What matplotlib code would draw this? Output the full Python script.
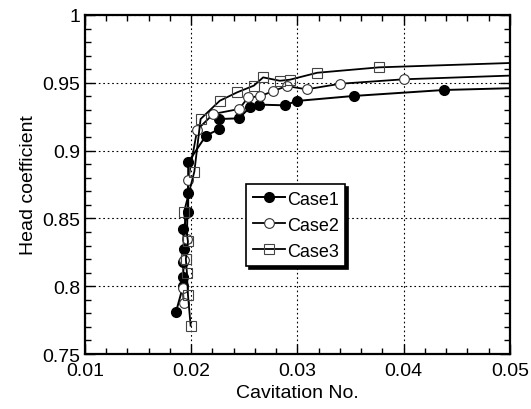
import matplotlib
matplotlib.use('Agg')
import matplotlib.pyplot as plt
from matplotlib.ticker import MultipleLocator

# Case1 - filled circles (last point is end of line only)
case1_x = [0.01856, 0.01925, 0.01925, 0.01925, 0.01932, 0.01925, 0.01972, 0.01972,
           0.01972, 0.02139, 0.02264, 0.02264, 0.02450, 0.02553, 0.02640, 0.02882,
           0.02993, 0.03530, 0.04380, 0.05]
case1_y = [0.7807, 0.8004, 0.8066, 0.8176, 0.8274, 0.8422, 0.8545, 0.8685,
           0.8914, 0.9110, 0.9159, 0.9233, 0.9238, 0.9319, 0.9339, 0.9334,
           0.9366, 0.9403, 0.9447, 0.9460]

# Case2 - open circles
case2_x = [0.01930, 0.01920, 0.01930, 0.01960, 0.01972, 0.02057, 0.02208, 0.02452,
           0.02537, 0.02647, 0.02766, 0.02900, 0.03087, 0.03403, 0.04005, 0.05]
case2_y = [0.7880, 0.7990, 0.8190, 0.8350, 0.8787, 0.9154, 0.9270, 0.9307,
           0.9393, 0.9400, 0.9437, 0.9476, 0.9452, 0.9493, 0.9526, 0.9553]

# Case3 - open squares
case3_x = [0.01995, 0.01970, 0.01960, 0.01950, 0.01970, 0.01932, 0.02030, 0.02089,
           0.02270, 0.02434, 0.02590, 0.02678, 0.02835, 0.02930, 0.03186, 0.03770, 0.05]
case3_y = [0.7709, 0.7935, 0.8100, 0.8200, 0.8330, 0.8545, 0.8845, 0.9233,
           0.9368, 0.9430, 0.9479, 0.9540, 0.9515, 0.9523, 0.9574, 0.9614, 0.9646]

x_ticks = [0.01, 0.02, 0.03, 0.04, 0.05]
x_ticklabels = ['0.01', '0.02', '0.03', '0.04', '0.05']
y_ticks = [0.75, 0.8, 0.85, 0.9, 0.95, 1.0]
y_ticklabels = ['0.75', '0.8', '0.85', '0.9', '0.95', '1']

plt.rcParams['font.family'] = ['Liberation Sans', 'DejaVu Sans']

fig = plt.figure(figsize=(5.31, 4.10), dpi=100)
ax = fig.add_axes([0.16, 0.134, 0.80, 0.827])

ax.plot(case1_x, case1_y, '-o', color='k', lw=1.4, ms=7, mfc='k', mec='k',
        markevery=slice(0, len(case1_x) - 1), label='Case1')
ax.plot(case2_x, case2_y, '-o', color='k', lw=1.3, ms=7, mfc='white', mec='#333333', mew=0.8,
        markevery=slice(0, len(case2_x) - 1), label='Case2')
ax.plot(case3_x, case3_y, '-s', color='k', lw=1.3, ms=7, mfc='none', mec='#444444', mew=0.8,
        markevery=slice(0, len(case3_x) - 1), label='Case3')

ax.set_xlim(0.01, 0.05)
ax.set_ylim(0.75, 1.0)
ax.set_xticks(x_ticks)
ax.set_xticklabels(x_ticklabels)
ax.set_yticks(y_ticks)
ax.set_yticklabels(y_ticklabels)
ax.xaxis.set_minor_locator(MultipleLocator(0.002))
ax.yaxis.set_minor_locator(MultipleLocator(0.01))

ax.tick_params(which='both', direction='in', top=True, right=True, labelsize=14)
ax.tick_params(which='major', length=7, width=1)
ax.tick_params(which='minor', length=4, width=1)
ax.tick_params(axis='x', pad=6)
ax.grid(True, which='major', linestyle=(0, (1.5, 2.5)), color='k', lw=0.8)
for s in ax.spines.values():
    s.set_linewidth(1.6)

ax.set_xlabel('Cavitation No.', fontsize=14, labelpad=3)
ax.set_ylabel('Head coefficient', fontsize=14, labelpad=4)

leg = ax.legend(loc='lower left', bbox_to_anchor=(0.38, 0.26), fontsize=13,
                frameon=True, fancybox=False, edgecolor='k', framealpha=1,
                shadow={'color': 'k', 'alpha': 1}, handlelength=1.8,
                handletextpad=0.1, borderpad=0.35, labelspacing=0.5, borderaxespad=0)
leg.get_frame().set_linewidth(1.2)

fig.savefig('out.png', dpi=100)
